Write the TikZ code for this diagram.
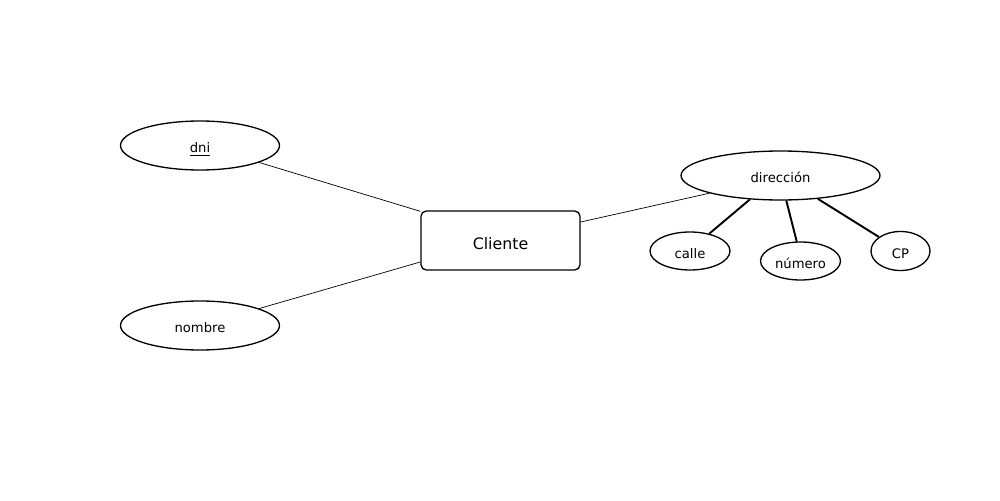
\documentclass[tikz,border=0pt]{standalone}
\usepackage{fontspec}
\setmainfont{DejaVu Sans}
\usetikzlibrary{shapes.geometric}
\begin{document}
\begin{tikzpicture}[x=0.02cm,y=-0.02cm,
  attr/.style={ellipse,draw,line width=0.75pt,inner sep=0pt,text height=8pt,text depth=0pt,font=\fontsize{7.5}{9}\selectfont},
  entity/.style={rectangle,draw,rounded corners=3pt,line width=0.75pt,minimum width=3.18cm,minimum height=1.18cm,inner sep=0pt,text height=10.2pt,text depth=0pt,font=\fontsize{9}{11}\selectfont},
  thin/.style={line width=0.4pt},
  thick/.style={line width=1.1pt}]
\fill[white] (0,0) rectangle (1000,500);
\useasboundingbox (0,0) rectangle (1000,500);
\node[entity] (cli) at (500.5,240.5) {Cliente};
\node[attr,minimum width=3.18cm,minimum height=0.98cm] (dni) at (200,145.5) {\underline{dni}};
\node[attr,minimum width=3.18cm,minimum height=0.98cm] (nom) at (200,325.5) {nombre};
\node[attr,minimum width=3.98cm,minimum height=0.98cm] (dir) at (780.5,175.5) {dirección};
\node[attr,minimum width=1.6cm,minimum height=0.76cm] (calle) at (690,251) {calle};
\node[attr,minimum width=1.6cm,minimum height=0.76cm] (num) at (800.5,261) {número};
\node[attr,minimum width=1.18cm,minimum height=0.78cm] (cp) at (900.5,251) {CP};
\draw[thin] (dni.-16.3) -- (cli.160.9);
\draw[thin] (nom.16.3) -- (cli.195.1);
\draw[thin] (cli.13.1) -- (dir.194.4);
\draw[thick] (dir.218.7) -- (calle.42);
\draw[thick] (dir.283) -- (num.101);
\draw[thick] (dir.328.1) -- (cp.147.5);
\end{tikzpicture}
\end{document}
